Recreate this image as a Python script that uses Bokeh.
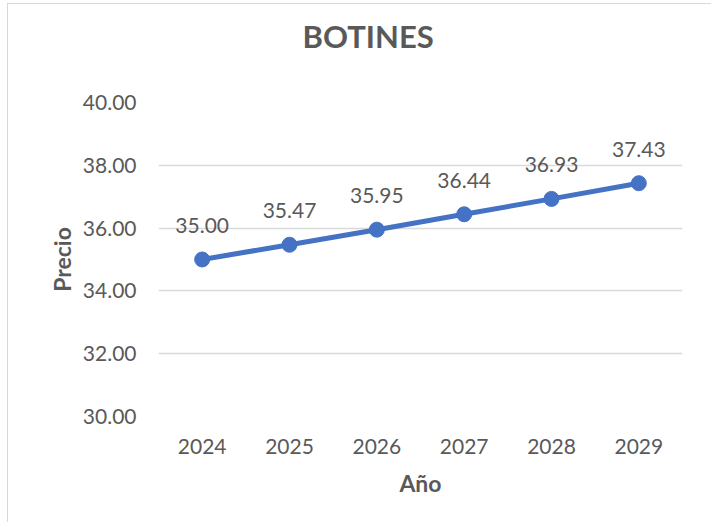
from bokeh.plotting import figure
from bokeh.models import ColumnDataSource, Range1d, FactorRange, FixedTicker, CustomJSTickFormatter, Title
from bokeh.core.properties import value
from bokeh.embed import file_html
from bokeh.resources import INLINE

years = ["2024", "2025", "2026", "2027", "2028", "2029"]
prices = [35.00, 35.47, 35.95, 36.44, 36.93, 37.43]
price_labels = ["35.00", "35.47", "35.95", "36.44", "36.93", "37.43"]
y_ticks = [30, 32, 34, 36, 38, 40]
title_text = "BOTINES"

FONT = "Lato"
GREY = "#595959"
BLUE = "#4472C4"

src = ColumnDataSource(dict(x=years, y=prices, lab=price_labels))

p = figure(x_range=FactorRange(factors=years, range_padding=0),
           y_range=Range1d(30, 40),
           frame_width=524, frame_height=314,
           min_border_left=158, min_border_right=29,
           min_border_top=102, min_border_bottom=106,
           output_backend="svg", toolbar_location=None)
p.outline_line_color = None
p.border_fill_color = None
p.background_fill_color = None
p.styles = {
    "background": ("linear-gradient(#D9D9D9,#D9D9D9) 7px 3px / 1px 100% no-repeat, "
                   "linear-gradient(#D9D9D9,#D9D9D9) 7px 3px / 100% 1px no-repeat, white"),
}

# second (blank) line lifts the title away from the plot frame
p.title.text = title_text + "\n "
p.title.align = "left"
p.title.offset = 144
p.title.standoff = 4
p.title.text_line_height = 1.2
p.title.text_font = FONT
p.title.text_font_size = "31px"
p.title.text_font_style = "bold"
p.title.text_color = GREY

p.line("x", "y", source=src, line_color=BLUE, line_width=5)
p.scatter("x", "y", source=src, size=15, fill_color=BLUE, line_color=BLUE)
p.text("x", "y", text="lab", source=src, y_offset=-34, text_align="center",
       text_baseline="middle", text_font=value(FONT), text_font_size="21px",
       text_color=GREY)

p.yaxis.ticker = FixedTicker(ticks=y_ticks)
p.yaxis.formatter = CustomJSTickFormatter(code="return tick.toFixed(2);")
for ax in (p.xaxis[0], p.yaxis[0]):
    ax.axis_line_color = None
    ax.major_tick_line_color = None
    ax.minor_tick_line_color = None
    ax.major_label_text_font = FONT
    ax.major_label_text_font_size = "21px"
    ax.major_label_text_color = GREY
    ax.axis_label_text_font = FONT
    ax.axis_label_text_font_size = "23px"
    ax.axis_label_text_font_style = "bold"
    ax.axis_label_text_color = GREY
p.yaxis.major_label_standoff = 16
p.yaxis.axis_label = "Precio"
p.yaxis.axis_label_standoff = 4
p.xaxis.major_label_standoff = 16
p.xaxis.axis_label = "Año"
p.xaxis.axis_label_standoff = 12

p.xgrid.grid_line_color = None
p.ygrid.grid_line_color = "#D9D9D9"
p.ygrid.grid_line_width = 1.5

open("out.html", "w").write(file_html(p, INLINE))
